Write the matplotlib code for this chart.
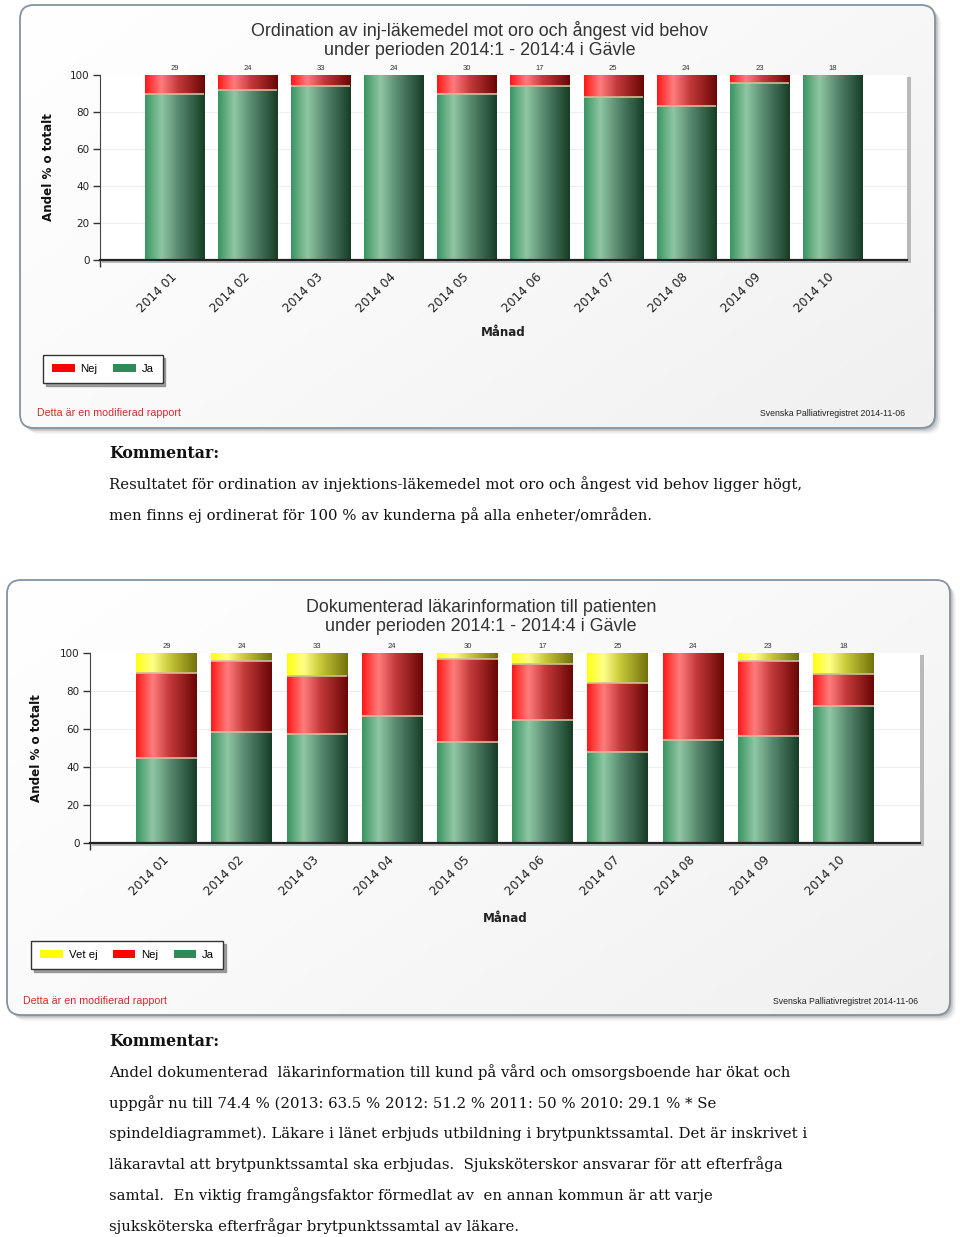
import numpy as np
import matplotlib
matplotlib.use("Agg")
import matplotlib.pyplot as plt
from matplotlib.patches import FancyBboxPatch, Rectangle
from matplotlib.colors import LinearSegmentedColormap
from matplotlib import font_manager

# ---------------- data ----------------
months = ["2014 01", "2014 02", "2014 03", "2014 04", "2014 05",
          "2014 06", "2014 07", "2014 08", "2014 09", "2014 10"]
counts = [29, 24, 33, 24, 30, 17, 25, 24, 23, 18]

# chart 1
ja_1 = [89.7, 91.7, 93.9, 100.0, 90.0, 94.1, 88.0, 83.3, 95.7, 100.0]
nej_1 = [10.3, 8.3, 6.1, 0.0, 10.0, 5.9, 12.0, 16.7, 4.3, 0.0]

# chart 2
ja_2 = [44.8, 58.3, 57.6, 66.7, 53.3, 64.7, 48.0, 54.2, 56.5, 72.2]
nej_2 = [44.9, 37.5, 30.3, 33.3, 43.4, 29.4, 36.0, 45.8, 39.2, 16.7]
vetej_2 = [10.3, 4.2, 12.1, 0.0, 3.3, 5.9, 16.0, 0.0, 4.3, 11.1]

y_ticks = [0, 20, 40, 60, 80, 100]

title_1 = ["Ordination av inj-läkemedel mot oro och ångest vid behov",
           "under perioden 2014:1 - 2014:4 i Gävle"]
title_2 = ["Dokumenterad läkarinformation till patienten",
           "under perioden 2014:1 - 2014:4 i Gävle"]
ylabel = "Andel % o totalt"
xlabel = "Månad"
footer_left = "Detta är en modifierad rapport"
footer_right = "Svenska Palliativregistret 2014-11-06"

comment_head = "Kommentar:"
comment_1 = [
    "Resultatet för ordination av injektions-läkemedel mot oro och ångest vid behov ligger högt,",
    "men finns ej ordinerat för 100 % av kunderna på alla enheter/områden.",
]
comment_2 = [
    "Andel dokumenterad  läkarinformation till kund på vård och omsorgsboende har ökat och",
    "uppgår nu till 74.4 % (2013: 63.5 % 2012: 51.2 % 2011: 50 % 2010: 29.1 % * Se",
    "spindeldiagrammet). Läkare i länet erbjuds utbildning i brytpunktssamtal. Det är inskrivet i",
    "läkaravtal att brytpunktssamtal ska erbjudas.  Sjuksköterskor ansvarar för att efterfråga",
    "samtal.  En viktig framgångsfaktor förmedlat av  en annan kommun är att varje",
    "sjuksköterska efterfrågar brytpunktssamtal av läkare.",
]

# ---------------- styles ----------------
names = {f.name for f in font_manager.fontManager.ttflist}
NARROW = "Liberation Sans Narrow" if "Liberation Sans Narrow" in names else "Liberation Sans"
WIDE = "DejaVu Sans"
SERIF = "DejaVu Serif"

GREEN = "#2e8b57"
RED = "#ff0000"
YELLOW = "#ffff00"
GREEN_STOPS = [(0.0, "#3a9562"), (0.27, "#8fc6a3"), (0.55, "#5a8c71"), (1.0, "#173d27")]
RED_STOPS = [(0.0, "#ff1818"), (0.27, "#ff7c7c"), (0.55, "#c43a3a"), (1.0, "#6a0606")]
YELLOW_STOPS = [(0.0, "#ffff10"), (0.27, "#ffff88"), (0.55, "#c8c838"), (1.0, "#72720c")]

W, H = 960, 1237
fig = plt.figure(figsize=(W / 100, H / 100), dpi=100)
fig.patch.set_facecolor("white")
bg = fig.add_axes([0, 0, 1, 1], zorder=0)
bg.set_xlim(0, W)
bg.set_ylim(H, 0)
bg.axis("off")


def panel(x0, y0, x1, y1):
    for off, a in [(6, 0.06), (4.5, 0.10), (3, 0.16), (1.5, 0.22)]:
        bg.add_patch(FancyBboxPatch((x0 + off, y0 + off), x1 - x0, y1 - y0,
                                    boxstyle="round,pad=0,rounding_size=14",
                                    fc="#555555", ec="none", alpha=a, zorder=1))
    face = FancyBboxPatch((x0, y0), x1 - x0, y1 - y0,
                          boxstyle="round,pad=0,rounding_size=14",
                          fc="#fafafa", ec="none", zorder=2)
    bg.add_patch(face)
    ny, nx = 60, 120
    gy, gx = np.mgrid[0:ny, 0:nx]
    G = (gx / nx * 0.6 + gy / ny * 0.4)
    cmap = LinearSegmentedColormap.from_list("p", ["#ffffff", "#f9f9f9", "#f0f0f0"])
    im = bg.imshow(G, extent=(x0, x1, y1, y0), cmap=cmap, aspect="auto",
                   zorder=2.1, interpolation="bilinear")
    im.set_clip_path(face)
    bg.add_patch(FancyBboxPatch((x0, y0), x1 - x0, y1 - y0,
                                boxstyle="round,pad=0,rounding_size=14",
                                fc="none", ec="#8593a0", lw=1.3, zorder=3))


def gradient_bars(ax, bars, stops):
    cmap = LinearSegmentedColormap.from_list("b", stops)
    grad = np.linspace(0, 1, 128).reshape(1, -1)
    for b in bars:
        h = b.get_height()
        if h <= 0:
            continue
        x0, y0, w = b.get_x(), b.get_y(), b.get_width()
        ax.imshow(grad, cmap=cmap, extent=(x0, x0 + w, y0, y0 + h),
                  aspect="auto", zorder=2.5, interpolation="bilinear")


def chart(px, segments, title, ty, ylab_x, xlab_y, legend_xy, foot_y, foot_lx, foot_rx):
    left, top, right, bottom = px
    # plot-area shadow
    bg.add_patch(Rectangle((left + 2, top + 2), right - left + 2, bottom - top + 1,
                           fc="#b9b9b9", ec="none", zorder=4))
    ax = fig.add_axes([left / W, 1 - bottom / H, (right - left) / W, (bottom - top) / H], zorder=2)
    ax.set_facecolor("white")
    x = np.arange(len(months))
    base = np.zeros(len(months))
    handles = []
    for vals, lab, col, stops in segments:
        vals = np.asarray(vals, dtype=float)
        bars = ax.bar(x, vals, width=0.81, bottom=base, color=col, label=lab,
                      edgecolor="none", zorder=2)
        gradient_bars(ax, bars, stops)
        handles.append(bars)
        base = base + vals
    # thin highlight lines between segments
    for bars in handles[:-1]:
        for b in bars:
            tp = b.get_y() + b.get_height()
            if 0 < tp < 99.9:
                ax.plot([b.get_x(), b.get_x() + b.get_width()], [tp, tp],
                        color="#cdbf98", lw=1.2, zorder=3, solid_capstyle="butt")
    for xi, n in zip(x, counts):
        ax.annotate(str(n), (xi, 100), xytext=(0, 7), textcoords="offset pixels",
                    ha="center", va="center", fontsize=5.5, family=NARROW,
                    color="#333333", annotation_clip=False)
    ax.set_xlim(-1.02, len(months) + 0.02)
    ax.set_ylim(0, 100)
    ax.set_yticks(y_ticks)
    ax.set_yticklabels([str(t) for t in y_ticks], fontsize=7.5, family=WIDE, color="#222222")
    ax.tick_params(axis="y", length=5, width=1, color="#333333", pad=2.5)
    ax.set_xticks(x)
    ax.set_xticklabels(months, rotation=45, ha="right", va="center",
                       rotation_mode="anchor", fontsize=8.7, family=WIDE, color="#222222")
    ax.tick_params(axis="x", which="major", length=0, pad=11)
    ax.set_xticks([-1.02] + list(x[1::2]), minor=True)
    ax.tick_params(axis="x", which="minor", length=5, width=1, color="#333333")
    for yv in y_ticks[1:-1]:
        ax.axhline(yv, color="#eeeeee", lw=0.8, zorder=1)
    for s in ["top", "right"]:
        ax.spines[s].set_visible(False)
    ax.spines["left"].set_color("#444444")
    ax.spines["bottom"].set_color("#222222")
    ax.spines["bottom"].set_linewidth(1.6)
    # legend
    ax.legend(handles[::-1], [h.get_label() for h in handles[::-1]],
              loc="upper left", bbox_to_anchor=(legend_xy[0] / W, 1 - legend_xy[1] / H),
              bbox_transform=fig.transFigure, ncol=len(handles), frameon=True,
              fancybox=False, shadow={"color": "#888888", "alpha": 0.8}, framealpha=1,
              edgecolor="#333333", prop={"family": NARROW, "size": 8.2},
              handlelength=2.0, handleheight=0.75, handletextpad=0.5,
              columnspacing=1.35, borderpad=0.8, borderaxespad=0)
    cx = (left + right) / 2 - 24
    for i, line in enumerate(title):
        bg.text(cx, ty + i * 19.5, line, ha="center", va="center", fontsize=12.9,
                family=NARROW, color="#333333", zorder=6)
    bg.text(ylab_x, (top + bottom) / 2, ylabel, rotation=90, ha="center", va="center",
            fontsize=8.6, family=WIDE, weight="bold", color="#111111", zorder=6)
    bg.text((left + right) / 2, xlab_y, xlabel, ha="center", va="center",
            fontsize=8.6, family=WIDE, weight="bold", color="#222222", zorder=6)
    bg.text(foot_lx, foot_y, footer_left, ha="left", va="center", fontsize=7.7,
            family=NARROW, color="#d42a2a", zorder=6)
    bg.text(foot_rx, foot_y + 1, footer_right, ha="right", va="center", fontsize=6.3,
            family=NARROW, color="#222222", zorder=6)
    return ax


# ---------------- panel 1 ----------------
panel(20, 5, 935, 428)
chart((100, 75, 907, 260),
      [(ja_1, "Ja", GREEN, GREEN_STOPS), (nej_1, "Nej", RED, RED_STOPS)],
      title_1, 31, 49, 333, (43, 355), 413, 37, 905)

# ---------------- panel 2 ----------------
panel(7, 580, 950, 1015)
chart((90, 653, 920, 843),
      [(ja_2, "Ja", GREEN, GREEN_STOPS), (nej_2, "Nej", RED, RED_STOPS),
       (vetej_2, "Vet ej", YELLOW, YELLOW_STOPS)],
      title_2, 607, 37, 918, (31, 941), 1001, 23, 918)

# ---------------- comments ----------------
bg.text(109, 453, comment_head, ha="left", va="center", fontsize=11.3,
        family=SERIF, weight="bold", color="#111111", zorder=6)
for i, line in enumerate(comment_1):
    bg.text(109, 484 + i * 31, line, ha="left", va="center", fontsize=10.7,
            family=SERIF, color="#111111", zorder=6)
bg.text(109, 1041, comment_head, ha="left", va="center", fontsize=11.3,
        family=SERIF, weight="bold", color="#111111", zorder=6)
for i, line in enumerate(comment_2):
    bg.text(109, 1072 + i * 30.8, line, ha="left", va="center", fontsize=10.7,
            family=SERIF, color="#111111", zorder=6)

fig.savefig("out.png", dpi=100, facecolor="white")
